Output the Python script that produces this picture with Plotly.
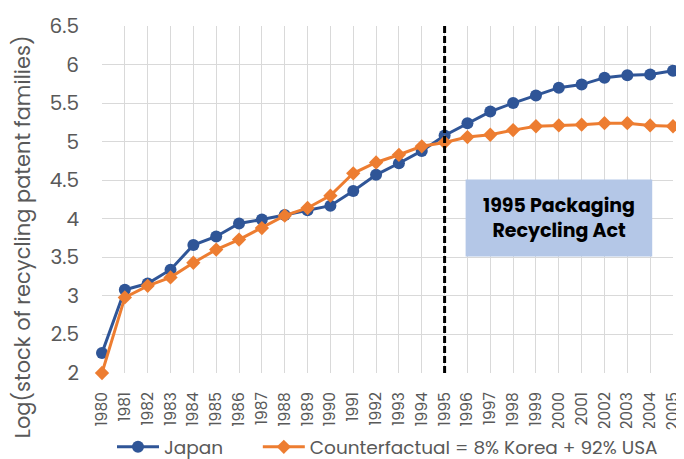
import plotly.graph_objects as go

years = list(range(1980, 2006))
japan = [2.26, 3.08, 3.16, 3.34, 3.66, 3.77, 3.94, 3.99, 4.05, 4.11, 4.17, 4.36, 4.57,
         4.72, 4.88, 5.08, 5.24, 5.39, 5.50, 5.60, 5.70, 5.74, 5.83, 5.86, 5.87, 5.92]
counterfactual = [2.00, 2.98, 3.13, 3.24, 3.43, 3.60, 3.73, 3.88, 4.04, 4.14, 4.30, 4.59, 4.73,
                  4.83, 4.94, 4.99, 5.06, 5.09, 5.15, 5.20, 5.21, 5.22, 5.24, 5.24, 5.21, 5.20]
y_ticks = [2, 2.5, 3, 3.5, 4, 4.5, 5, 5.5, 6, 6.5]
y_tick_text = ["2", "2.5", "3", "3.5", "4", "4.5", "5", "5.5", "6", "6.5"]

FONT = "Poppins, Lato, sans-serif"
GREY = "#595959"

fig = go.Figure()
fig.add_trace(go.Scatter(
    x=years, y=japan, name="Japan" + "\u00a0" * 6, mode="lines+markers",
    line=dict(color="#2F5597", width=3),
    marker=dict(symbol="circle", size=12, color="#2F5597"),
    cliponaxis=False,
))
fig.add_trace(go.Scatter(
    x=years, y=counterfactual, name="Counterfactual = 8% Korea + 92% USA", mode="lines+markers",
    line=dict(color="#ED7D31", width=3),
    marker=dict(symbol="diamond", size=11, color="#ED7D31"),
    cliponaxis=False,
))

# policy year marker + label box
fig.add_shape(type="line", x0=1995, x1=1995, xref="x", y0=0, y1=1, yref="paper",
              line=dict(color="black", width=3, dash="7px,3px"))
fig.add_shape(type="rect", x0=1995.92, x1=2004.09, y0=3.51, y1=4.51, xref="x", yref="y",
              fillcolor="#B4C7E7", line=dict(width=0), layer="above")
fig.add_annotation(x=2000, y=4.01, xref="x", yref="y",
                   text="<b>1995 Packaging<br>Recycling Act</b>", showarrow=False,
                   font=dict(family=FONT, size=19, color="black"))

# y title as an annotation so it sits where the original puts it
fig.add_annotation(x=-0.138, y=0.392, xref="paper", yref="paper", textangle=-90,
                   text="Log(stock of recycling patent families)", showarrow=False,
                   xanchor="center", yanchor="middle",
                   font=dict(family=FONT, size=21, color=GREY))

# page adds an 8px body margin, so the figure is 8px smaller than the window
fig.update_layout(
    width=676, height=451,
    paper_bgcolor="white", plot_bgcolor="white",
    margin=dict(l=94, r=11, t=18, b=86, autoexpand=False),
    font=dict(family=FONT, color=GREY),
    legend=dict(orientation="h", x=0.5, xanchor="center", y=-0.214, yanchor="middle",
                font=dict(size=18.5, color=GREY), traceorder="normal", itemwidth=42),
    xaxis=dict(
        range=[1980, 2005], tickmode="array", tickvals=years, ticktext=[str(y) for y in years],
        tickangle=-90, tickfont=dict(size=15.5, color=GREY), automargin=False,
        ticklabelstandoff=15, ticklabeloverflow="allow",
        showgrid=True, gridcolor="#D9D9D9", gridwidth=1, zeroline=False,
        showline=False, ticks="",
    ),
    yaxis=dict(
        range=[2, 6.5], tickmode="array", tickvals=y_ticks, ticktext=y_tick_text,
        tickfont=dict(size=20, color=GREY), automargin=False,
        ticklabelstandoff=22,
        showgrid=True, gridcolor="#D9D9D9", gridwidth=1, zeroline=False,
        ticks="",
    ),
)

fig.write_html("out.html")
